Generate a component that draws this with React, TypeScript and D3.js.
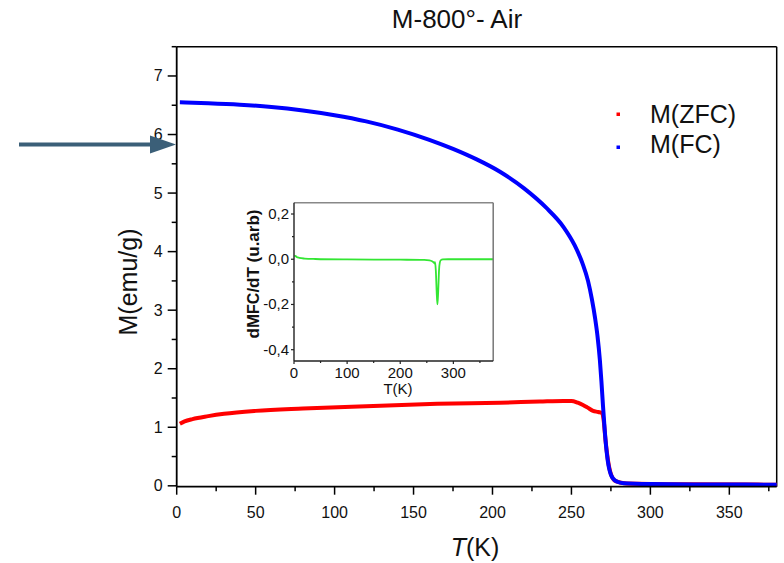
import React from "react";
import * as d3 from "d3";

// ---- Data ----
const fcT = [2, 20, 40, 60, 80, 100, 120, 140, 160, 175, 190, 205, 220, 234, 245, 252, 257, 260.5, 263, 265, 266.5, 268, 269, 270, 271, 272, 273, 274, 275, 276.5, 279, 283, 300, 340, 380];
const fcM = [6.55, 6.535, 6.51, 6.47, 6.41, 6.33, 6.225, 6.085, 5.91, 5.755, 5.575, 5.36, 5.08, 4.75, 4.42, 4.11, 3.80, 3.50, 3.18, 2.86, 2.56, 2.15, 1.78, 1.36, 0.98, 0.66, 0.43, 0.28, 0.19, 0.12, 0.07, 0.045, 0.03, 0.022, 0.02];

const zfcT = [2, 5, 10, 20, 30, 50, 80, 120, 165, 205, 230, 245, 250, 254, 257.3, 260, 263.7, 267, 269.5, 270.5, 271.5, 273, 275, 278, 285, 320, 380];
const zfcM = [1.06, 1.10, 1.14, 1.19, 1.23, 1.28, 1.32, 1.36, 1.40, 1.42, 1.44, 1.45, 1.45, 1.42, 1.38, 1.34, 1.28, 1.26, 1.24, 1.10, 0.80, 0.46, 0.20, 0.08, 0.04, 0.025, 0.02];

const dT = [1, 3, 5, 10, 20, 40, 100, 200, 245, 255, 260, 263, 264.5, 265.5, 267, 268.5, 270, 271.5, 273, 274.5, 276.5, 280, 290, 330, 375];
const dM = [0.012, 0.015, 0.010, 0.006, 0.003, 0.001, -0.001, -0.002, -0.003, -0.005, -0.009, -0.014, -0.019, -0.013, -0.05, -0.14, -0.2, -0.14, -0.05, -0.015, -0.004, -0.001, 0, 0, 0];

const mainXTicks = [0, 50, 100, 150, 200, 250, 300, 350];
const mainXMinor = [25, 75, 125, 175, 225, 275, 325, 375];
const mainYTicks = [0, 1, 2, 3, 4, 5, 6, 7];
const mainYMinor = [0.5, 1.5, 2.5, 3.5, 4.5, 5.5, 6.5, 7.5];

const insXTicks = [0, 100, 200, 300];
const insXMinor = [50, 150, 250, 350];
const insYTicks = [0.2, 0.0, -0.2, -0.4];
const insYMinor = [0.1, -0.1, -0.3];

const legendItems = ["M(ZFC)", "M(FC)"];
const legendColors = ["#ff0000", "#0000ff"];

const FONT = "'Liberation Sans', Arial, Helvetica, sans-serif";

export default function App() {
  // main scales
  const x = d3.scaleLinear().domain([0, 380]).range([176.7, 776.7]);
  const y = d3.scaleLinear().domain([-0.015, 7.5]).range([486.7, 46.7]);
  // inset scales
  const ix = d3.scaleLinear().domain([0, 375]).range([294, 493.2]);
  const iy = d3.scaleLinear().domain([-0.45, 0.25]).range([361, 202.7]);

  const line = d3
    .line<[number, number]>()
    .x((d) => x(d[0]))
    .y((d) => y(d[1]))
    .curve(d3.curveMonotoneX);
  const iline = d3
    .line<[number, number]>()
    .x((d) => ix(d[0]))
    .y((d) => iy(d[1]))
    .curve(d3.curveMonotoneX);

  const fc = fcT.map((t, i) => [t, fcM[i]] as [number, number]);
  const zfc = zfcT.map((t, i) => [t, zfcM[i]] as [number, number]);
  const dd = dT.map((t, i) => [t, dM[i]] as [number, number]);

  const [x0, x1] = x.range();
  const [y0, y1] = y.range();
  const [ix0, ix1] = ix.range();
  const [iy0, iy1] = iy.range();

  const fmtComma = (v: number) => d3.format(".1f")(v).replace(".", ",").replace("−", "-");

  return (
    <svg
      width={784}
      height={563}
      style={{ position: "absolute", left: 0, top: 0, background: "#fff" }}
      fontFamily={FONT}
    >
      <rect x={0} y={0} width={784} height={563} fill="#fff" />
      {/* Title */}
      <text x={457} y={28} textAnchor="middle" fontSize={26} fill="#111">
        M-800°- Air
      </text>

      {/* main frame */}
      <line x1={x0} x2={x1} y1={y1} y2={y1} stroke="#000" strokeWidth={1.5} />
      <line x1={x1} x2={x1} y1={y1} y2={y0} stroke="#000" strokeWidth={1.5} />

      {/* data lines */}
      <path d={line(zfc) || ""} fill="none" stroke="#ff0000" strokeWidth={4} strokeLinejoin="round" />
      <path d={line(fc) || ""} fill="none" stroke="#0000ff" strokeWidth={4} strokeLinejoin="round" />

      {/* main axes */}
      <line x1={x0} x2={x1} y1={y0} y2={y0} stroke="#000" strokeWidth={1.8} />
      <line x1={x0} x2={x0} y1={y0} y2={y1} stroke="#000" strokeWidth={1.8} />
      {mainXTicks.map((t) => (
        <g key={"mx" + t}>
          <line x1={x(t)} x2={x(t)} y1={y0} y2={y0 + 8} stroke="#000" strokeWidth={1.5} />
          <text x={x(t)} y={y0 + 31} textAnchor="middle" fontSize={16} fill="#111">
            {t}
          </text>
        </g>
      ))}
      {mainXMinor.map((t) => (
        <line key={"mxm" + t} x1={x(t)} x2={x(t)} y1={y0} y2={y0 + 4.5} stroke="#000" strokeWidth={1.5} />
      ))}
      {mainYTicks.map((t) => (
        <g key={"my" + t}>
          <line x1={x0 - 9} x2={x0} y1={y(t)} y2={y(t)} stroke="#000" strokeWidth={1.5} />
          <text x={x0 - 14} y={y(t) + 5.5} textAnchor="end" fontSize={16} fill="#111">
            {t}
          </text>
        </g>
      ))}
      {mainYMinor.map((t) => (
        <line key={"mym" + t} x1={x0 - 5} x2={x0} y1={y(t)} y2={y(t)} stroke="#000" strokeWidth={1.5} />
      ))}

      {/* axis titles */}
      <text x={475} y={556} textAnchor="middle" fontSize={25} fill="#111">
        <tspan fontStyle="italic">T</tspan>(K)
      </text>
      <text
        transform={`translate(137,282) rotate(-90)`}
        textAnchor="middle"
        fontSize={25}
        fill="#111"
      >
        M(emu/g)
      </text>

      {/* legend */}
      {legendItems.map((s, i) => (
        <g key={s}>
          <rect x={616.5} y={112.5 + i * 33} width={3.5} height={3.5} fill={legendColors[i]} />
          <text x={650} y={123 + i * 30} fontSize={25} fill="#111">
            {s}
          </text>
        </g>
      ))}

      {/* arrow */}
      <line x1={19} x2={155} y1={144.5} y2={144.5} stroke="#3b5f78" strokeWidth={4} />
      <path d="M150,135.5 L176,144.5 L150,153.5 Z" fill="#3b5f78" />

      {/* inset */}
      <rect x={ix0} y={iy1} width={ix1 - ix0} height={iy0 - iy1} fill="#fff" />
      <path d={iline(dd) || ""} fill="none" stroke="#33e633" strokeWidth={1.8} />
      <line x1={ix0} x2={ix1} y1={iy1} y2={iy1} stroke="#888" strokeWidth={1.5} />
      <line x1={ix1} x2={ix1} y1={iy1} y2={iy0} stroke="#777" strokeWidth={1.5} />
      <line x1={ix0} x2={ix1} y1={iy0} y2={iy0} stroke="#222" strokeWidth={1.4} />
      <line x1={ix0} x2={ix0} y1={iy0} y2={iy1} stroke="#222" strokeWidth={1.4} />
      {insXTicks.map((t) => (
        <g key={"ix" + t}>
          <line x1={ix(t)} x2={ix(t)} y1={iy0} y2={iy0 + 3} stroke="#222" strokeWidth={1.2} />
          <text x={ix(t)} y={iy0 + 17} textAnchor="middle" fontSize={15} fill="#111">
            {t}
          </text>
        </g>
      ))}
      {insXMinor.map((t) => (
        <line key={"ixm" + t} x1={ix(t)} x2={ix(t)} y1={iy0} y2={iy0 + 2} stroke="#222" strokeWidth={1.2} />
      ))}
      {insYTicks.map((t) => (
        <g key={"iy" + t}>
          <line x1={ix0 - 3} x2={ix0} y1={iy(t)} y2={iy(t)} stroke="#222" strokeWidth={1.2} />
          <text x={ix0 - 5} y={iy(t) + 5} textAnchor="end" fontSize={15} fill="#111">
            {fmtComma(t)}
          </text>
        </g>
      ))}
      {insYMinor.map((t) => (
        <line key={"iym" + t} x1={ix0 - 2} x2={ix0} y1={iy(t)} y2={iy(t)} stroke="#222" strokeWidth={1.2} />
      ))}
      <text x={398} y={394} textAnchor="middle" fontSize={15} fill="#111">
        T(K)
      </text>
      <text
        transform={`translate(259,274) rotate(-90)`}
        textAnchor="middle"
        fontSize={17}
        fontWeight="bold"
        fill="#111"
      >
        dM<tspan fontSize={16}>FC</tspan>/dT (u.arb)
      </text>
    </svg>
  );
}
